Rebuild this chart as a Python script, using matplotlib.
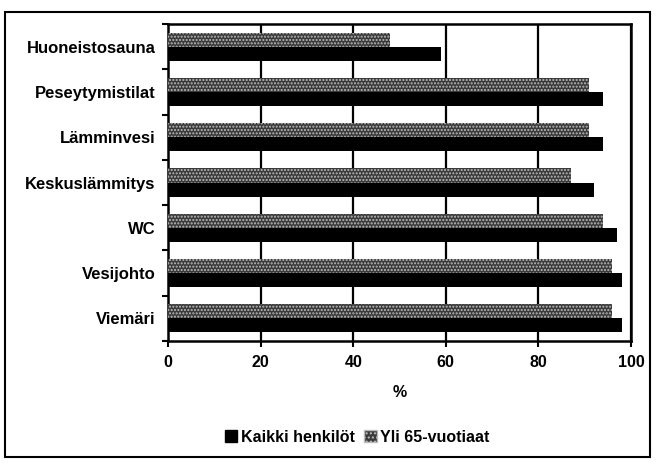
import matplotlib
matplotlib.use("Agg")
import matplotlib.pyplot as plt
from matplotlib.patches import Rectangle, Patch
import numpy as np

plt.rcParams['font.family'] = ['Liberation Sans', 'DejaVu Sans']
plt.rcParams['font.weight'] = 'bold'

categories = ["Huoneistosauna", "Peseytymistilat", "Lämminvesi", "Keskuslämmitys",
              "WC", "Vesijohto", "Viemäri"]
kaikki = [59, 94, 94, 92, 97, 98, 98]
yli65 = [48, 91, 91, 87, 94, 96, 96]
xticks = [0, 20, 40, 60, 80, 100]

fig = plt.figure(figsize=(6.57, 4.66), dpi=100)
ax = fig.add_axes([168/657, 1-341/466, (631-168)/657, (341-24)/466])

y = np.arange(len(categories))
h = 0.31
ax.set_axisbelow(True)
for x in xticks[1:]:
    ax.axvline(x, color='black', lw=1.6, zorder=1)

ax.barh(y + h/2, kaikki, height=h, color='black', zorder=3, label='Kaikki henkilöt')
ax.barh(y - h/2, yli65, height=h, color='#3a3a3a', zorder=3)
ax.barh(y - h/2, yli65, height=h, color='none', hatch='.....', edgecolor='#bbbbbb',
        linewidth=0, zorder=4)

ax.set_xlim(0, 100)
ax.set_ylim(len(categories) - 0.5, -0.5)
ax.set_xticks(xticks)
ax.set_xticklabels([str(v) for v in xticks], fontsize=11.5, fontweight='bold')
ax.set_yticks(y)
ax.set_yticklabels(categories, fontsize=12, fontweight='bold')
ax.tick_params(axis='y', which='major', length=0, pad=9)
ax.set_yticks(np.arange(-0.5, len(categories)), minor=True)
ax.tick_params(axis='y', which='minor', length=4, width=1.5, direction='out')
ax.tick_params(axis='x', length=4, width=1.5, direction='out', pad=6)
for s in ax.spines.values():
    s.set_linewidth(1.8)
ax.set_xlabel('%', fontsize=11.5, fontweight='bold', labelpad=11)

h1 = Patch(facecolor='black', edgecolor='black', label='Kaikki henkilöt')
h2 = Patch(facecolor='#3a3a3a', hatch='....', edgecolor='#bbbbbb', label='Yli 65-vuotiaat')
fig.legend(handles=[h1, h2], loc='center', bbox_to_anchor=(357/657, 1-437/466), ncol=2,
           frameon=False, fontsize=11.5, handlelength=0.8, handleheight=0.8,
           handletextpad=0.2, columnspacing=0.6)

fig.add_artist(Rectangle((5/657, 1-457/466), (650-5)/657, (457-12)/466,
                         transform=fig.transFigure, fill=False, edgecolor='black', lw=1.5))

fig.savefig('out.png', dpi=100)
